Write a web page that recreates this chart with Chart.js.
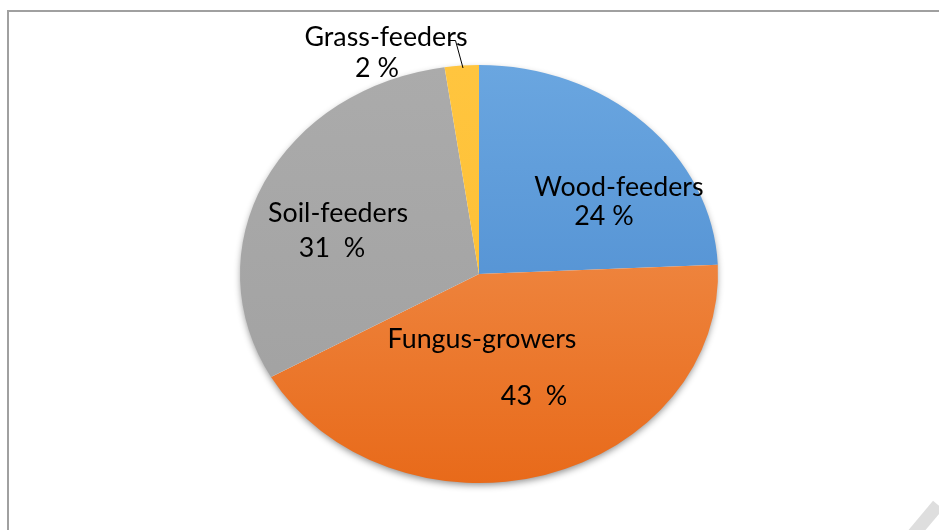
<!DOCTYPE html>
<html>
<head>
<meta charset="utf-8">
<script src="https://cdn.jsdelivr.net/npm/chart.js@4.4.1/dist/chart.umd.min.js"></script>
<style>
  html, body { margin: 0; padding: 0; background: #ffffff; }
  #wrap { width: 939px; height: 530px; position: relative; }
</style>
</head>
<body>
<div id="wrap"><canvas id="c" width="939" height="530"></canvas></div>
<script>
// ---- data ----
const categories = ['Wood-feeders', 'Fungus-growers', 'Soil-feeders', 'Grass-feeders'];
const shares = [24.3, 42.5, 30.9, 2.3];
const percentSuffix = [' %', '  %', '  %', ' %'];
const colorTop = ['#6aa6e0', '#f39a5c', '#ababab', '#ffc53f'];
const colorBottom = ['#4585cb', '#e86a1a', '#a0a0a0', '#fdbd2f'];

// ---- layout (not data) ----
const ELLIPSE_RATIO = 209 / 239;
const labelLayout = [
  { name: [619, 187], pct: [604, 216], clip: 228 },
  { name: [482, 339], pct: [534, 396] },
  { name: [338, 213], pct: [332, 248] },
  { name: [386, 37], pct: [377, 68] }
];

const ellipsePlugin = {
  id: 'ellipse',
  beforeDraw(chart) {
    const ctx = chart.ctx;
    ctx.save();
    ctx.fillStyle = '#ffffff';
    ctx.fillRect(0, 0, chart.width, chart.height);
    // outer frame
    ctx.strokeStyle = '#a0a0a0';
    ctx.lineWidth = 2;
    ctx.strokeRect(8, 11, chart.width + 20, chart.height + 20);
    // watermark stroke bottom-right
    ctx.strokeStyle = '#dedede';
    ctx.lineWidth = 13;
    ctx.beginPath();
    ctx.moveTo(912, 536);
    ctx.lineTo(938, 505);
    ctx.stroke();
    ctx.restore();
  },
  beforeDatasetsDraw(chart) {
    const ctx = chart.ctx;
    const a = chart.chartArea;
    const cx = (a.left + a.right) / 2, cy = (a.top + a.bottom) / 2;
    const r = Math.min(a.right - a.left, a.bottom - a.top) / 2;
    // shadow under ellipse
    ctx.save();
    ctx.shadowColor = 'rgba(0,0,0,0.45)';
    ctx.shadowBlur = 7;
    ctx.shadowOffsetX = 0;
    ctx.shadowOffsetY = 3;
    ctx.fillStyle = '#ffffff';
    ctx.beginPath();
    ctx.ellipse(cx, cy, r - 1, r * ELLIPSE_RATIO - 1, 0, 0, Math.PI * 2);
    ctx.fill();
    ctx.restore();
    ctx.save();
    ctx.translate(cx, cy);
    ctx.scale(1, ELLIPSE_RATIO);
    ctx.translate(-cx, -cy);
  },
  afterDatasetsDraw(chart) {
    chart.ctx.restore();
  },
  afterDraw(chart) {
    const ctx = chart.ctx;
    ctx.save();
    ctx.fillStyle = '#000000';
    ctx.textAlign = 'center';
    ctx.textBaseline = 'middle';
    // fit font to reference width of "Fungus-growers" (~189px)
    ctx.font = '24px Lato';
    const w = ctx.measureText('Fungus-growers').width;
    const size = (24 * 189 / w).toFixed(1);
    ctx.font = size + 'px Lato';
    categories.forEach((name, i) => {
      const L = labelLayout[i];
      ctx.fillText(name, L.name[0], L.name[1]);
      const pct = Math.round(shares[i]) + percentSuffix[i];
      ctx.save();
      if (L.clip) {
        ctx.beginPath();
        ctx.rect(0, 0, chart.width, L.clip);
        ctx.clip();
      }
      ctx.fillText(pct, L.pct[0], L.pct[1]);
      ctx.restore();
    });
    // leader line for Grass-feeders
    ctx.strokeStyle = '#000000';
    ctx.lineWidth = 1;
    ctx.beginPath();
    ctx.moveTo(448.5, 40.5);
    ctx.lineTo(455.5, 40.5);
    ctx.lineTo(463, 68);
    ctx.stroke();
    ctx.restore();
  }
};

function sliceGradient(context) {
  const chart = context.chart;
  const a = chart.chartArea;
  const i = context.dataIndex;
  if (!a) return colorTop[i];
  const g = chart.ctx.createLinearGradient(0, a.top, 0, a.bottom);
  g.addColorStop(0, colorTop[i]);
  g.addColorStop(1, colorBottom[i]);
  return g;
}

new Chart(document.getElementById('c'), {
  type: 'pie',
  data: {
    labels: categories,
    datasets: [{
      data: shares,
      backgroundColor: sliceGradient,
      borderWidth: 0,
      hoverOffset: 0
    }]
  },
  options: {
    responsive: false,
    animation: false,
    events: [],
    layout: { padding: { left: 240, right: 221, top: 35, bottom: 17 } },
    plugins: {
      legend: { display: false },
      tooltip: { enabled: false }
    }
  },
  plugins: [ellipsePlugin]
});
</script>
</body>
</html>
